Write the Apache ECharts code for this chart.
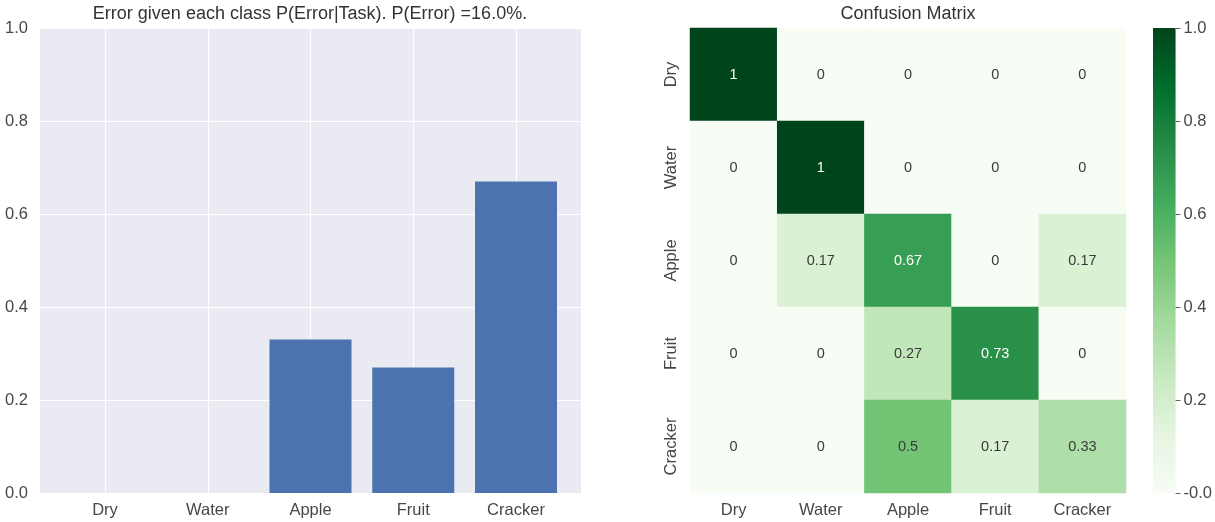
<!DOCTYPE html>
<html>
<head>
<meta charset="utf-8">
<script src="https://cdn.jsdelivr.net/npm/echarts@6/dist/echarts.min.js"></script>
<style>
  html, body { margin: 0; padding: 0; background: #fff; }
  #chart { width: 1215px; height: 522px; }
</style>
</head>
<body>
<div id="chart"></div>
<script>
// Task classes
const classes = ['Dry', 'Water', 'Apple', 'Fruit', 'Cracker'];

// Confusion matrix rows (true class), columns (predicted class)
const rowDry     = [1, 0, 0, 0, 0];
const rowWater   = [0, 1, 0, 0, 0];
const rowApple   = [0, 0.17, 0.67, 0, 0.17];
const rowFruit   = [0, 0, 0.27, 0.73, 0];
const rowCracker = [0, 0, 0.5, 0.17, 0.33];

// Per-class error P(Error|Task)
const classError = [0, 0, 0.33, 0.27, 0.67];

// Colour bar tick values
const colorbarTicks = [0, 0.2, 0.4, 0.6, 0.8, 1.0];

const matrix = [rowDry, rowWater, rowApple, rowFruit, rowCracker];
const overallError = '16.0%';

const FONT = '"Liberation Sans", Arial, sans-serif';
const TICK_COLOR = '#474747';
const TICK_SIZE = 16.5;

// "Greens" sequential palette, low to high
const greens = ['#f7fcf5', '#e5f5e0', '#c7e9c0', '#a1d99b', '#74c476',
                '#41ab5d', '#238b45', '#006d2c', '#00441b'];

const heatData = [];
matrix.forEach((row, r) => {
  row.forEach((v, c) => {
    heatData.push({
      value: [c, r, v],
      label: { color: v > 0.6 ? '#ffffff' : '#3a3a3a' }
    });
  });
});

const barData = classError.map((v, i) => [i, v]);

// Colour bar fill: same palette, bottom (0) to top (1)
const barGradient = new echarts.graphic.LinearGradient(0, 1, 0, 0,
  greens.map((c, i) => ({ offset: i / (greens.length - 1), color: c })));

const chart = echarts.init(document.getElementById('chart'), null, { renderer: 'canvas' });

chart.setOption({
  animation: false,
  textStyle: { fontFamily: FONT },
  graphic: [
    {
      type: 'text', x: 310, y: 14,
      style: {
        text: 'Error given each class P(Error|Task). P(Error) =' + overallError + '.',
        font: '18px ' + FONT, fill: '#333', textAlign: 'center', textVerticalAlign: 'middle'
      }
    },
    {
      type: 'text', x: 908, y: 14,
      style: {
        text: 'Confusion Matrix',
        font: '18px ' + FONT, fill: '#333', textAlign: 'center', textVerticalAlign: 'middle'
      }
    }
  ],
  grid: [
    // bar panel background + y axis
    { left: 40, top: 28, width: 541, height: 465, show: true,
      backgroundColor: '#EAEAF2', borderWidth: 0 },
    // bar panel category positions
    { left: 105, top: 28, width: 411, height: 465 },
    // heatmap
    { left: 690, top: 28, width: 436, height: 465 },
    // colour bar
    { left: 1153, top: 28, width: 23, height: 465, show: true,
      backgroundColor: barGradient, borderWidth: 0 }
  ],
  xAxis: [
    { gridIndex: 0, type: 'value', min: 0, max: 1, show: false },
    {
      gridIndex: 1, type: 'value', min: 0, max: 4, interval: 1,
      axisLine: { show: false }, axisTick: { show: false },
      splitLine: { show: true, lineStyle: { color: '#ffffff', width: 1 } },
      axisLabel: {
        formatter: v => classes[v] || '', color: TICK_COLOR, fontSize: TICK_SIZE,
        fontFamily: FONT, margin: 9
      }
    },
    {
      gridIndex: 2, type: 'category', data: classes,
      axisLine: { show: false }, axisTick: { show: false },
      splitLine: { show: false },
      axisLabel: { color: TICK_COLOR, fontSize: TICK_SIZE, fontFamily: FONT, margin: 9 }
    },
    { gridIndex: 3, type: 'value', show: false }
  ],
  yAxis: [
    {
      gridIndex: 0, type: 'value', min: 0, max: 1, interval: 0.2,
      axisLine: { show: false }, axisTick: { show: false },
      splitLine: { show: true, lineStyle: { color: '#ffffff', width: 1 } },
      axisLabel: { formatter: v => v.toFixed(1), color: TICK_COLOR, fontSize: TICK_SIZE,
                   fontFamily: FONT, margin: 12 }
    },
    { gridIndex: 1, type: 'value', min: 0, max: 1, show: false },
    {
      gridIndex: 2, type: 'category', data: classes, inverse: true,
      axisLine: { show: false }, axisTick: { show: false },
      splitLine: { show: false },
      axisLabel: { rotate: 90, color: TICK_COLOR, fontSize: TICK_SIZE, fontFamily: FONT,
                   margin: 10 }
    },
    {
      gridIndex: 3, type: 'value', min: 0, max: 1, interval: 0.2, position: 'right',
      axisLine: { show: false, onZero: false },
      axisTick: { show: true, inside: false, length: 5, lineStyle: { color: '#666', width: 1 } },
      splitLine: { show: false },
      axisLabel: {
        formatter: v => (v === 0 ? '-0.0' : v.toFixed(1)),
        color: TICK_COLOR, fontSize: TICK_SIZE, fontFamily: FONT, margin: 8
      }
    }
  ],
  visualMap: {
    type: 'continuous', seriesIndex: 1, min: 0, max: 1, show: false,
    inRange: { color: greens }
  },
  series: [
    {
      type: 'bar', xAxisIndex: 1, yAxisIndex: 1, data: barData,
      barWidth: 82, clip: false,
      itemStyle: { color: '#4C72B0' }
    },
    {
      type: 'heatmap', xAxisIndex: 2, yAxisIndex: 2, data: heatData,
      label: {
        show: true, fontSize: 14.5, fontFamily: FONT,
        formatter: p => String(p.value[2])
      },
      emphasis: { disabled: true }
    }
  ]
});
</script>
</body>
</html>
